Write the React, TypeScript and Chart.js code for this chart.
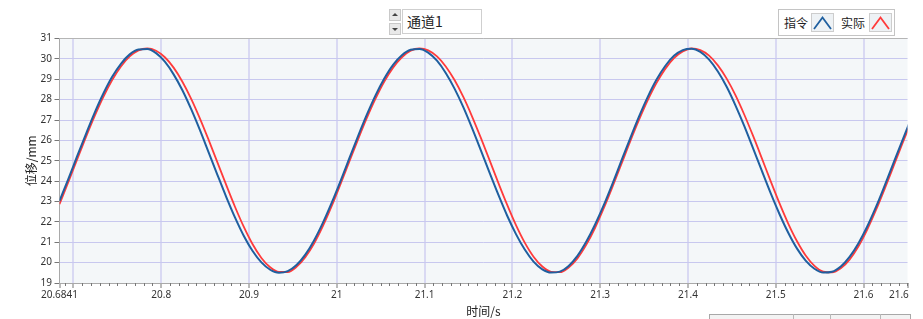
import React, { useEffect, useRef } from 'react';
import { Chart, registerables } from 'chart.js';
Chart.register(...registerables);

const TIMES = [
  20.6841, 20.6941, 20.7041, 20.7141, 20.7241, 20.7341, 20.7441, 20.7541, 20.7641, 20.7741,
  20.7841, 20.7941, 20.8041, 20.8141, 20.8241, 20.8341, 20.8441, 20.8541, 20.8641, 20.8741,
  20.8841, 20.8941, 20.9041, 20.9141, 20.9241, 20.9341, 20.9441, 20.9541, 20.9641, 20.9741,
  20.9841, 20.9941, 21.0041, 21.0141, 21.0241, 21.0341, 21.0441, 21.0541, 21.0641, 21.0741,
  21.0841, 21.0941, 21.1041, 21.1141, 21.1241, 21.1341, 21.1441, 21.1541, 21.1641, 21.1741,
  21.1841, 21.1941, 21.2041, 21.2141, 21.2241, 21.2341, 21.2441, 21.2541, 21.2641, 21.2741,
  21.2841, 21.2941, 21.3041, 21.3141, 21.3241, 21.3341, 21.3441, 21.3541, 21.3641, 21.3741,
  21.3841, 21.3941, 21.4041, 21.4141, 21.4241, 21.4341, 21.4441, 21.4541, 21.4641, 21.4741,
  21.4841, 21.4941, 21.5041, 21.5141, 21.5241, 21.5341, 21.5441, 21.5541, 21.5641, 21.5741,
  21.5841, 21.5941, 21.6041, 21.6141, 21.6241, 21.6341, 21.6441, 21.6541,
];

const COMMAND = [
  23.03, 24.10, 25.21, 26.30, 27.35, 28.30, 29.12, 29.76, 30.22, 30.46,
  30.48, 30.28, 29.86, 29.24, 28.46, 27.53, 26.50, 25.40, 24.30, 23.22,
  22.21, 21.31, 20.57, 20.01, 19.65, 19.50, 19.58, 19.88, 20.39, 21.09,
  21.95, 22.93, 23.99, 25.10, 26.20, 27.25, 28.21, 29.04, 29.71, 30.18,
  30.45, 30.49, 30.31, 29.91, 29.31, 28.54, 27.63, 26.60, 25.51, 24.40,
  23.32, 22.30, 21.40, 20.64, 20.05, 19.67, 19.51, 19.56, 19.84, 20.33,
  21.02, 21.86, 22.82, 23.88, 24.99, 26.09, 27.15, 28.12, 28.97, 29.65,
  30.15, 30.43, 30.50, 30.34, 29.96, 29.38, 28.63, 27.72, 26.71, 25.62,
  24.51, 23.42, 22.40, 21.48, 20.70, 20.10, 19.70, 19.51, 19.55, 19.81,
  20.28, 20.94, 21.76, 22.72, 23.78, 24.88, 25.98, 27.05,
];

const ACTUAL = [
  22.87, 23.95, 25.05, 26.15, 27.19, 28.14, 28.96, 29.63, 30.12, 30.42,
  30.51, 30.40, 30.08, 29.57, 28.88, 28.04, 27.07, 26.01, 24.91, 23.80,
  22.73, 21.75, 20.90, 20.23, 19.77, 19.54, 19.54, 19.79, 20.27, 20.94,
  21.79, 22.77, 23.84, 24.94, 26.04, 27.09, 28.05, 28.89, 29.57, 30.08,
  30.40, 30.51, 30.42, 30.12, 29.63, 28.96, 28.13, 27.17, 26.12, 25.02,
  23.90, 22.83, 21.84, 20.98, 20.29, 19.81, 19.55, 19.53, 19.76, 20.21,
  20.87, 21.70, 22.67, 23.73, 24.83, 25.94, 26.99, 27.96, 28.81, 29.51,
  30.04, 30.37, 30.51, 30.43, 30.16, 29.68, 29.03, 28.22, 27.27, 26.23,
  25.13, 24.01, 22.93, 21.93, 21.06, 20.35, 19.84, 19.56, 19.52, 19.72,
  20.15, 20.79, 21.61, 22.57, 23.62, 24.72, 25.83, 26.89,
];

const X_MIN = 20.6841;
const X_MAX = 21.6501;
const X_TICK_VALUES = [20.6841, 20.7, 20.8, 20.9, 21, 21.1, 21.2, 21.3, 21.4, 21.5, 21.6, 21.6501];
const X_TICK_LABELS = ['20.6841', '', '20.8', '20.9', '21', '21.1', '21.2', '21.3', '21.4', '21.5', '21.6', '21.6501'];
const Y_MIN = 19;
const Y_MAX = 31;
const SERIES_NAMES = ['指令', '实际'];
const SERIES_COLORS = ['#1f5f9f', '#ff3b3b'];

const TICK_FONT = { family: '"Noto Sans", "DejaVu Sans", sans-serif', size: 10 };
const CJK = '"Noto Sans CJK SC", "Noto Sans", sans-serif';

const plotDecor = {
  id: 'plotDecor',
  beforeDraw(chart: any) {
    const { ctx, chartArea: a } = chart;
    ctx.save();
    ctx.fillStyle = '#f4f7f9';
    ctx.fillRect(a.left, a.top, a.right - a.left, a.bottom - a.top);
    ctx.restore();
  },
  afterDraw(chart: any) {
    const { ctx, chartArea: a } = chart;
    const xs = chart.scales.x;
    ctx.save();
    ctx.strokeStyle = '#b5b5b5';
    ctx.lineWidth = 1;
    ctx.beginPath();
    ctx.moveTo(a.left, Math.round(a.top) - 0.5);
    ctx.lineTo(a.right, Math.round(a.top) - 0.5);
    ctx.stroke();
    ctx.strokeStyle = '#777';
    ctx.beginPath();
    for (let k = 2069; k <= 2165; k++) {
      if (k % 10 === 0) continue;
      const px = Math.round(xs.getPixelForValue(k / 100)) + 0.5;
      ctx.moveTo(px, a.bottom);
      ctx.lineTo(px, a.bottom + 3);
    }
    ctx.stroke();
    ctx.restore();
  },
};

function LegendIcon({ color }: { color: string }) {
  return (
    <svg width="21" height="17" style={{ display: 'block' }}>
      <polyline points="2,15 10.5,3.5 19,15" fill="none" stroke={color} strokeWidth="1.8" />
    </svg>
  );
}

export default function App() {
  const ref = useRef<HTMLCanvasElement | null>(null);

  useEffect(() => {
    document.body.style.margin = '0';
    const canvas = ref.current;
    if (!canvas) return;
    const chart = new Chart(canvas, {
      type: 'line',
      data: {
        datasets: [
          {
            label: SERIES_NAMES[0],
            data: TIMES.map((t, i) => ({ x: t, y: COMMAND[i] })),
            borderColor: SERIES_COLORS[0],
            borderWidth: 2,
            pointRadius: 0,
            cubicInterpolationMode: 'monotone',
            order: 0,
          },
          {
            label: SERIES_NAMES[1],
            data: TIMES.map((t, i) => ({ x: t, y: ACTUAL[i] })),
            borderColor: SERIES_COLORS[1],
            borderWidth: 1.8,
            pointRadius: 0,
            cubicInterpolationMode: 'monotone',
            order: 1,
          },
        ],
      },
      options: {
        animation: false,
        responsive: false,
        maintainAspectRatio: false,
        events: [],
        layout: { padding: { left: 0, right: 1.5, top: 38.5, bottom: 0 } },
        plugins: { legend: { display: false }, tooltip: { enabled: false }, title: { display: false } },
        scales: {
          x: {
            type: 'linear',
            min: X_MIN,
            max: X_MAX,
            afterBuildTicks: (scale: any) => {
              scale.ticks = X_TICK_VALUES.map((v) => ({ value: v }));
            },
            afterFit: (scale: any) => {
              scale.height = 36;
              scale.paddingLeft = 0;
              scale.paddingRight = 0;
            },
            ticks: {
              autoSkip: false,
              maxRotation: 0,
              minRotation: 0,
              padding: 1,
              color: '#333',
              font: TICK_FONT,
              callback: (_v: any, i: number) => X_TICK_LABELS[i],
            },
            grid: {
              color: (c: any) =>
                c.index === 0 || c.index === X_TICK_VALUES.length - 1 ? 'rgba(0,0,0,0)' : '#d9d9f3',
              lineWidth: 2,
              tickColor: '#777',
              tickWidth: 1,
              tickLength: 5,
            },
            border: { display: true, color: '#a9a9a9', width: 1 },
            title: {
              display: true,
              text: '时间/s',
              color: '#222',
              font: { family: CJK, size: 12 },
              padding: { top: 0, bottom: 0 },
            },
          },
          y: {
            type: 'linear',
            min: Y_MIN,
            max: Y_MAX,
            afterFit: (scale: any) => {
              scale.width = 59.5;
              scale.paddingTop = 0;
              scale.paddingBottom = 0;
            },
            ticks: {
              stepSize: 1,
              padding: 2.5,
              color: '#333',
              font: TICK_FONT,
            },
            grid: {
              color: '#c8c8ef',
              lineWidth: 1,
              tickColor: '#777',
              tickLength: 5,
            },
            border: { display: true, color: '#a9a9a9', width: 1 },
            title: {
              display: true,
              text: '位移/mm',
              color: '#222',
              font: { family: CJK, size: 12 },
              padding: { top: 24, bottom: 0 },
            },
          },
        },
      },
      plugins: [plotDecor],
    } as any);
    return () => chart.destroy();
  }, []);

  const btn: React.CSSProperties = {
    position: 'absolute',
    left: 389,
    width: 10,
    height: 10,
    background: '#e9e9e9',
    border: '1px solid #c9c9c9',
  };

  return (
    <div style={{ position: 'relative', width: 923, height: 319, overflow: 'hidden', background: '#fff' }}>
      <canvas ref={ref} width={909} height={319} style={{ position: 'absolute', left: 0, top: 0, width: 909, height: 319 }} />

      <div style={{ ...btn, top: 9 }}>
        <div style={{ position: 'absolute', left: 2, top: 3, width: 0, height: 0, borderLeft: '3px solid transparent', borderRight: '3px solid transparent', borderBottom: '3px solid #444' }} />
      </div>
      <div style={{ ...btn, top: 23 }}>
        <div style={{ position: 'absolute', left: 2, top: 4, width: 0, height: 0, borderLeft: '3px solid transparent', borderRight: '3px solid transparent', borderTop: '3px solid #444' }} />
      </div>
      <div style={{ position: 'absolute', left: 402, top: 9, width: 74, height: 23, border: '1px solid #cfcfcf', background: '#fff', fontFamily: CJK, fontSize: 14, lineHeight: '23px', color: '#222', paddingLeft: 4, boxSizing: 'content-box' }}>
        通道1
      </div>

      <div style={{ position: 'absolute', left: 778, top: 9, width: 115, height: 25, border: '1px solid #c4c4c4', background: '#fff' }} />
      <div style={{ position: 'absolute', left: 784, top: 13, height: 19, lineHeight: '19px', fontFamily: CJK, fontSize: 12, color: '#222' }}>{SERIES_NAMES[0]}</div>
      <div style={{ position: 'absolute', left: 811, top: 13, width: 21, height: 17, border: '1px solid #cdcdcd', background: '#eef2f5' }}>
        <LegendIcon color={SERIES_COLORS[0]} />
      </div>
      <div style={{ position: 'absolute', left: 841, top: 13, height: 19, lineHeight: '19px', fontFamily: CJK, fontSize: 12, color: '#222' }}>{SERIES_NAMES[1]}</div>
      <div style={{ position: 'absolute', left: 869, top: 13, width: 21, height: 17, border: '1px solid #cdcdcd', background: '#eef2f5' }}>
        <LegendIcon color={SERIES_COLORS[1]} />
      </div>

      <div style={{ position: 'absolute', left: 709, top: 314, width: 200, height: 12, border: '1px solid #a8a8a8', background: '#f3f3f3' }} />
      <div style={{ position: 'absolute', left: 793, top: 314, width: 1, height: 6, background: '#b8b8b8' }} />
      <div style={{ position: 'absolute', left: 830, top: 314, width: 1, height: 6, background: '#b8b8b8' }} />
      <div style={{ position: 'absolute', left: 880, top: 314, width: 1, height: 6, background: '#b8b8b8' }} />
    </div>
  );
}
